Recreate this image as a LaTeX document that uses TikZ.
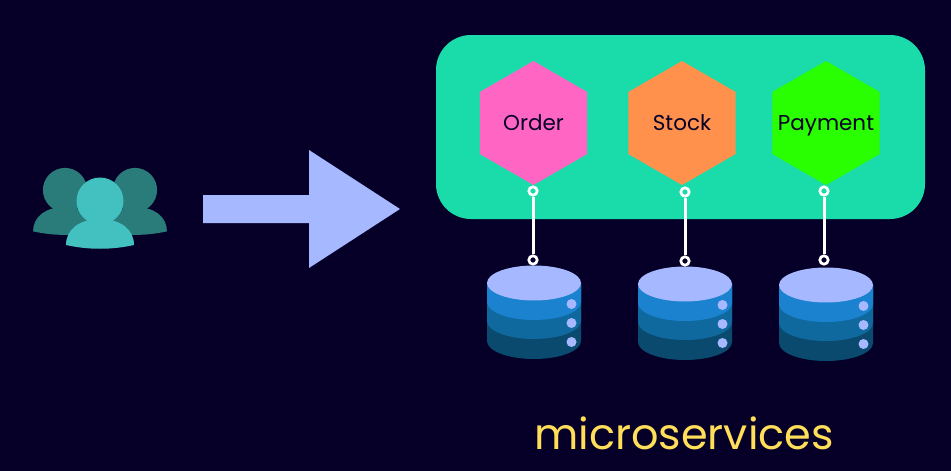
\documentclass[tikz,border=0pt]{standalone}
\usepackage{fontspec}
\setmainfont{Poppins}
\usetikzlibrary{shapes.geometric}
\definecolor{bgdark}{HTML}{060029}
\definecolor{boxgreen}{HTML}{1ADBAA}
\definecolor{hexpink}{HTML}{FF66C4}
\definecolor{hexorange}{HTML}{FF914D}
\definecolor{hexlime}{HTML}{29FF00}
\definecolor{arrowblue}{HTML}{A6B8FF}
\definecolor{bandone}{HTML}{1A82CF}
\definecolor{bandtwo}{HTML}{0F699F}
\definecolor{bandthree}{HTML}{0A4A6E}
\definecolor{userfront}{HTML}{43C1C0}
\definecolor{userback}{HTML}{2A7C7A}
\definecolor{titleyellow}{HTML}{FFDE59}
\tikzset{
  service/.style={regular polygon,regular polygon sides=6,shape border rotate=30,minimum size=124pt,inner sep=0pt,text=bgdark,text height=17pt,text depth=3pt,font=\fontsize{21.5}{26}\selectfont},
  ring/.style={circle,draw=white,line width=2.7pt,minimum size=8.4pt,inner sep=0pt},
  link/.style={draw=white,line width=3pt}
}
% label that does not widen the hexagon
\newcommand{\svcname}[1]{\makebox[0pt]{#1}}
% one database: centre of the top ellipse
\newcommand{\dbstack}[2]{
  \fill[bandthree] (#1-47,#2) -- (#1-47,#2+58) arc[start angle=180,end angle=0,x radius=47,y radius=18] -- (#1+47,#2) -- cycle;
  \fill[bandtwo] (#1-47,#2) -- (#1-47,#2+38) arc[start angle=180,end angle=0,x radius=47,y radius=18] -- (#1+47,#2) -- cycle;
  \fill[bandone] (#1-47,#2) -- (#1-47,#2+19) arc[start angle=180,end angle=0,x radius=47,y radius=18] -- (#1+47,#2) -- cycle;
  \fill[arrowblue] (#1,#2) ellipse[x radius=47,y radius=17.5];
  \foreach \dy in {21,40,59} \fill[arrowblue] (#1+37.5,#2+\dy) circle (5);
}
% one person: centre of the head, scale
\newcommand{\person}[4]{
  \fill[#4] (#1,#2) circle (#3*23.5);
  \fill[#4] (#1-#3*34,#2+#3*44) .. controls (#1-#3*34,#2+#3*28) and (#1-#3*20,#2+#3*18) .. (#1,#2+#3*18)
    .. controls (#1+#3*20,#2+#3*18) and (#1+#3*34,#2+#3*28) .. (#1+#3*34,#2+#3*44)
    .. controls (#1+#3*12,#2+#3*49) and (#1-#3*12,#2+#3*49) .. (#1-#3*34,#2+#3*44) -- cycle;
}

\begin{document}
\begin{tikzpicture}[x=1pt,y=-1pt]
    \fill[bgdark] (0,0) rectangle (951,471);
    \useasboundingbox (0,0) rectangle (951,471);

    \person{65}{190}{0.94}{userback}
    \person{135}{190}{0.94}{userback}
    \person{100}{201}{1}{userfront}

    \fill[arrowblue] (203,195) -- (309,195) -- (309,150) -- (400,209) -- (309,268) -- (309,223) -- (203,223) -- cycle;

    \node (box) at (680.5,127) [rectangle,rounded corners=35pt,fill=boxgreen,minimum width=489pt,minimum height=184pt,inner sep=0pt] {};
    \node (order) at (533.5,123) [service,fill=hexpink] {\svcname{Order}};
    \node (stock) at (682,123) [service,fill=hexorange] {\svcname{Stock}};
    \node (payment) at (826,123) [service,fill=hexlime] {\svcname{Payment}};

    \dbstack{534}{283}
    \dbstack{685}{284}
    \dbstack{826}{285}

    \node (orderTop) at (533,191) [ring] {};
    \node (orderDb) at (533,260) [ring] {};
    \node (stockTop) at (685,192) [ring] {};
    \node (stockDb) at (685,261) [ring] {};
    \node (paymentTop) at (824,191) [ring] {};
    \node (paymentDb) at (824,260) [ring] {};
    \draw [link] (orderTop) -- (orderDb);
    \draw [link] (stockTop) -- (stockDb);
    \draw [link] (paymentTop) -- (paymentDb);

    \node (title) at (684,433) [text=titleyellow,font=\fontsize{43}{50}\selectfont] {microservices};
\end{tikzpicture}
\end{document}
